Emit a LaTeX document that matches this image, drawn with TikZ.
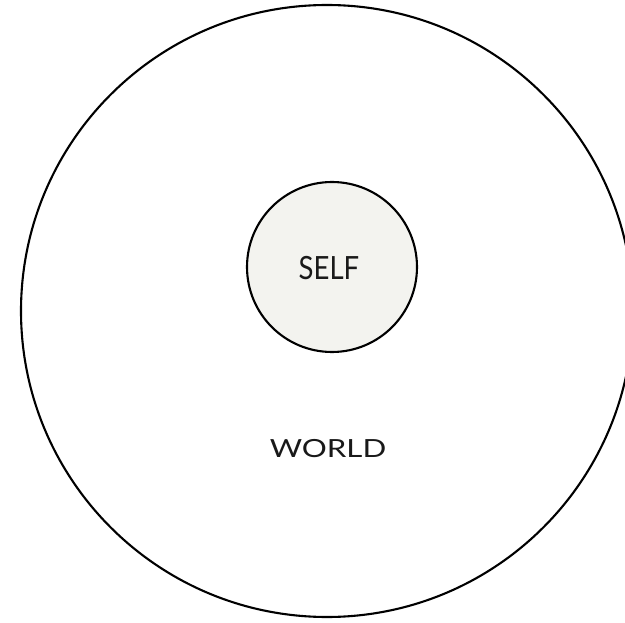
\documentclass[tikz,border=0pt]{standalone}
\usepackage{fontspec}
\setmainfont{Lato}
\begin{document}
\begin{tikzpicture}[x=1pt,y=-1pt,
  ring/.style={draw=black, line width=2.1pt},
  lbl/.style={inner sep=0pt, text=black!90}]
\useasboundingbox (0,0) rectangle (625,623);
\clip (0,0) rectangle (625,623);
\fill[white] (0,0) rectangle (625,623);
\node[ring, circle, minimum size=612pt, inner sep=0pt] (world) at (327,311) {};
\node[ring, circle, fill={rgb,255:red,243;green,243;blue,239}, minimum size=170pt, inner sep=0pt] (self) at (332,267) {};
\node[lbl, font=\fontsize{32}{32}\selectfont, xscale=0.86] (selftext) at (329,268) {SELF};
\node[lbl, font=\fontsize{25}{25}\selectfont, xscale=1.25] (worldtext) at (328,449) {WORLD};
\end{tikzpicture}
\end{document}
